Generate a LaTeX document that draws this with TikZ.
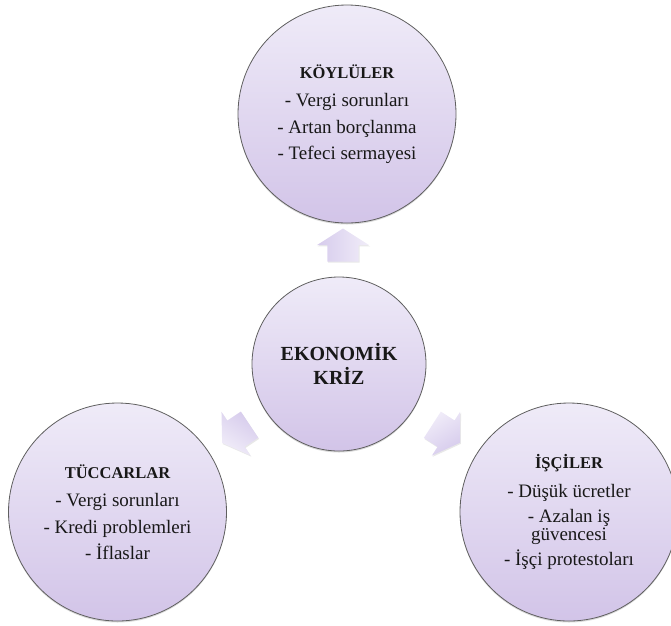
\documentclass[tikz,border=0pt]{standalone}
\usepackage{fontspec}
\setmainfont{Liberation Serif}
\usetikzlibrary{shapes.arrows,shadows,calc}
\definecolor{ctop}{RGB}{239,235,248}
\definecolor{cbot}{RGB}{210,196,232}
\definecolor{cedge}{RGB}{95,95,95}
\definecolor{atop}{RGB}{241,237,249}
\definecolor{abot}{RGB}{214,203,236}
\definecolor{txt}{RGB}{24,24,24}
\tikzset{
  bubble/.style={circle, draw=cedge, line width=0.8pt, top color=ctop, bottom color=cbot,
    inner sep=0pt, align=center, text=txt,
    drop shadow={shadow xshift=0pt, shadow yshift=-1.5pt, opacity=0.3}},
  bigbubble/.style={bubble, minimum size=218pt, font=\fontsize{19}{26.5}\selectfont},
  hubbubble/.style={bubble, minimum size=174pt, font=\fontsize{20}{24}\selectfont\bfseries},
  blockarrow/.style={single arrow, draw=none, top color=atop, bottom color=abot,
    minimum height=33pt, single arrow head extend=10.5pt,
    single arrow head indent=0pt, single arrow tip angle=115,
    inner xsep=0pt, inner ysep=15.5pt, text width=0pt,
    rotate=#1, shading angle=-#1,
    drop shadow={shadow xshift=0.8pt, shadow yshift=-1.2pt, opacity=0.18}}
}
\newcommand{\ttlfont}{\fontsize{16.5}{26.5}\selectfont\bfseries}
\begin{document}
\begin{tikzpicture}[x=1pt, y=-1pt]
\useasboundingbox (0,0) rectangle (671,625);

\node[hubbubble] (hub) at (339,364) {EKONOMİK\\KRİZ};

\node[bigbubble] (koy) at (347,114)
  {{\ttlfont KÖYLÜLER}\\[2pt] - Vergi sorunları\\ - Artan borçlanma\\ - Tefeci sermayesi};

\node[bigbubble] (tuc) at (117.5,512)
  {{\ttlfont TÜCCARLAR}\\[2pt] - Vergi sorunları\\ - Kredi problemleri\\ - İflaslar};

\node[bigbubble] (isc) at (569,512)
  {{\ttlfont İŞÇİLER}\\[2pt] - Düşük ücretler\\[-1pt] - Azalan iş\\[-8.5pt] güvencesi\\[-2pt] - İşçi protestoları};

\node[blockarrow=90] (arrK) at ($(hub.north)!0.5!(koy.south)$) {};
\node[blockarrow=213.7] (arrT) at (240,431) {};
\node[blockarrow=-32.8] (arrI) at (442,431) {};
\end{tikzpicture}
\end{document}
